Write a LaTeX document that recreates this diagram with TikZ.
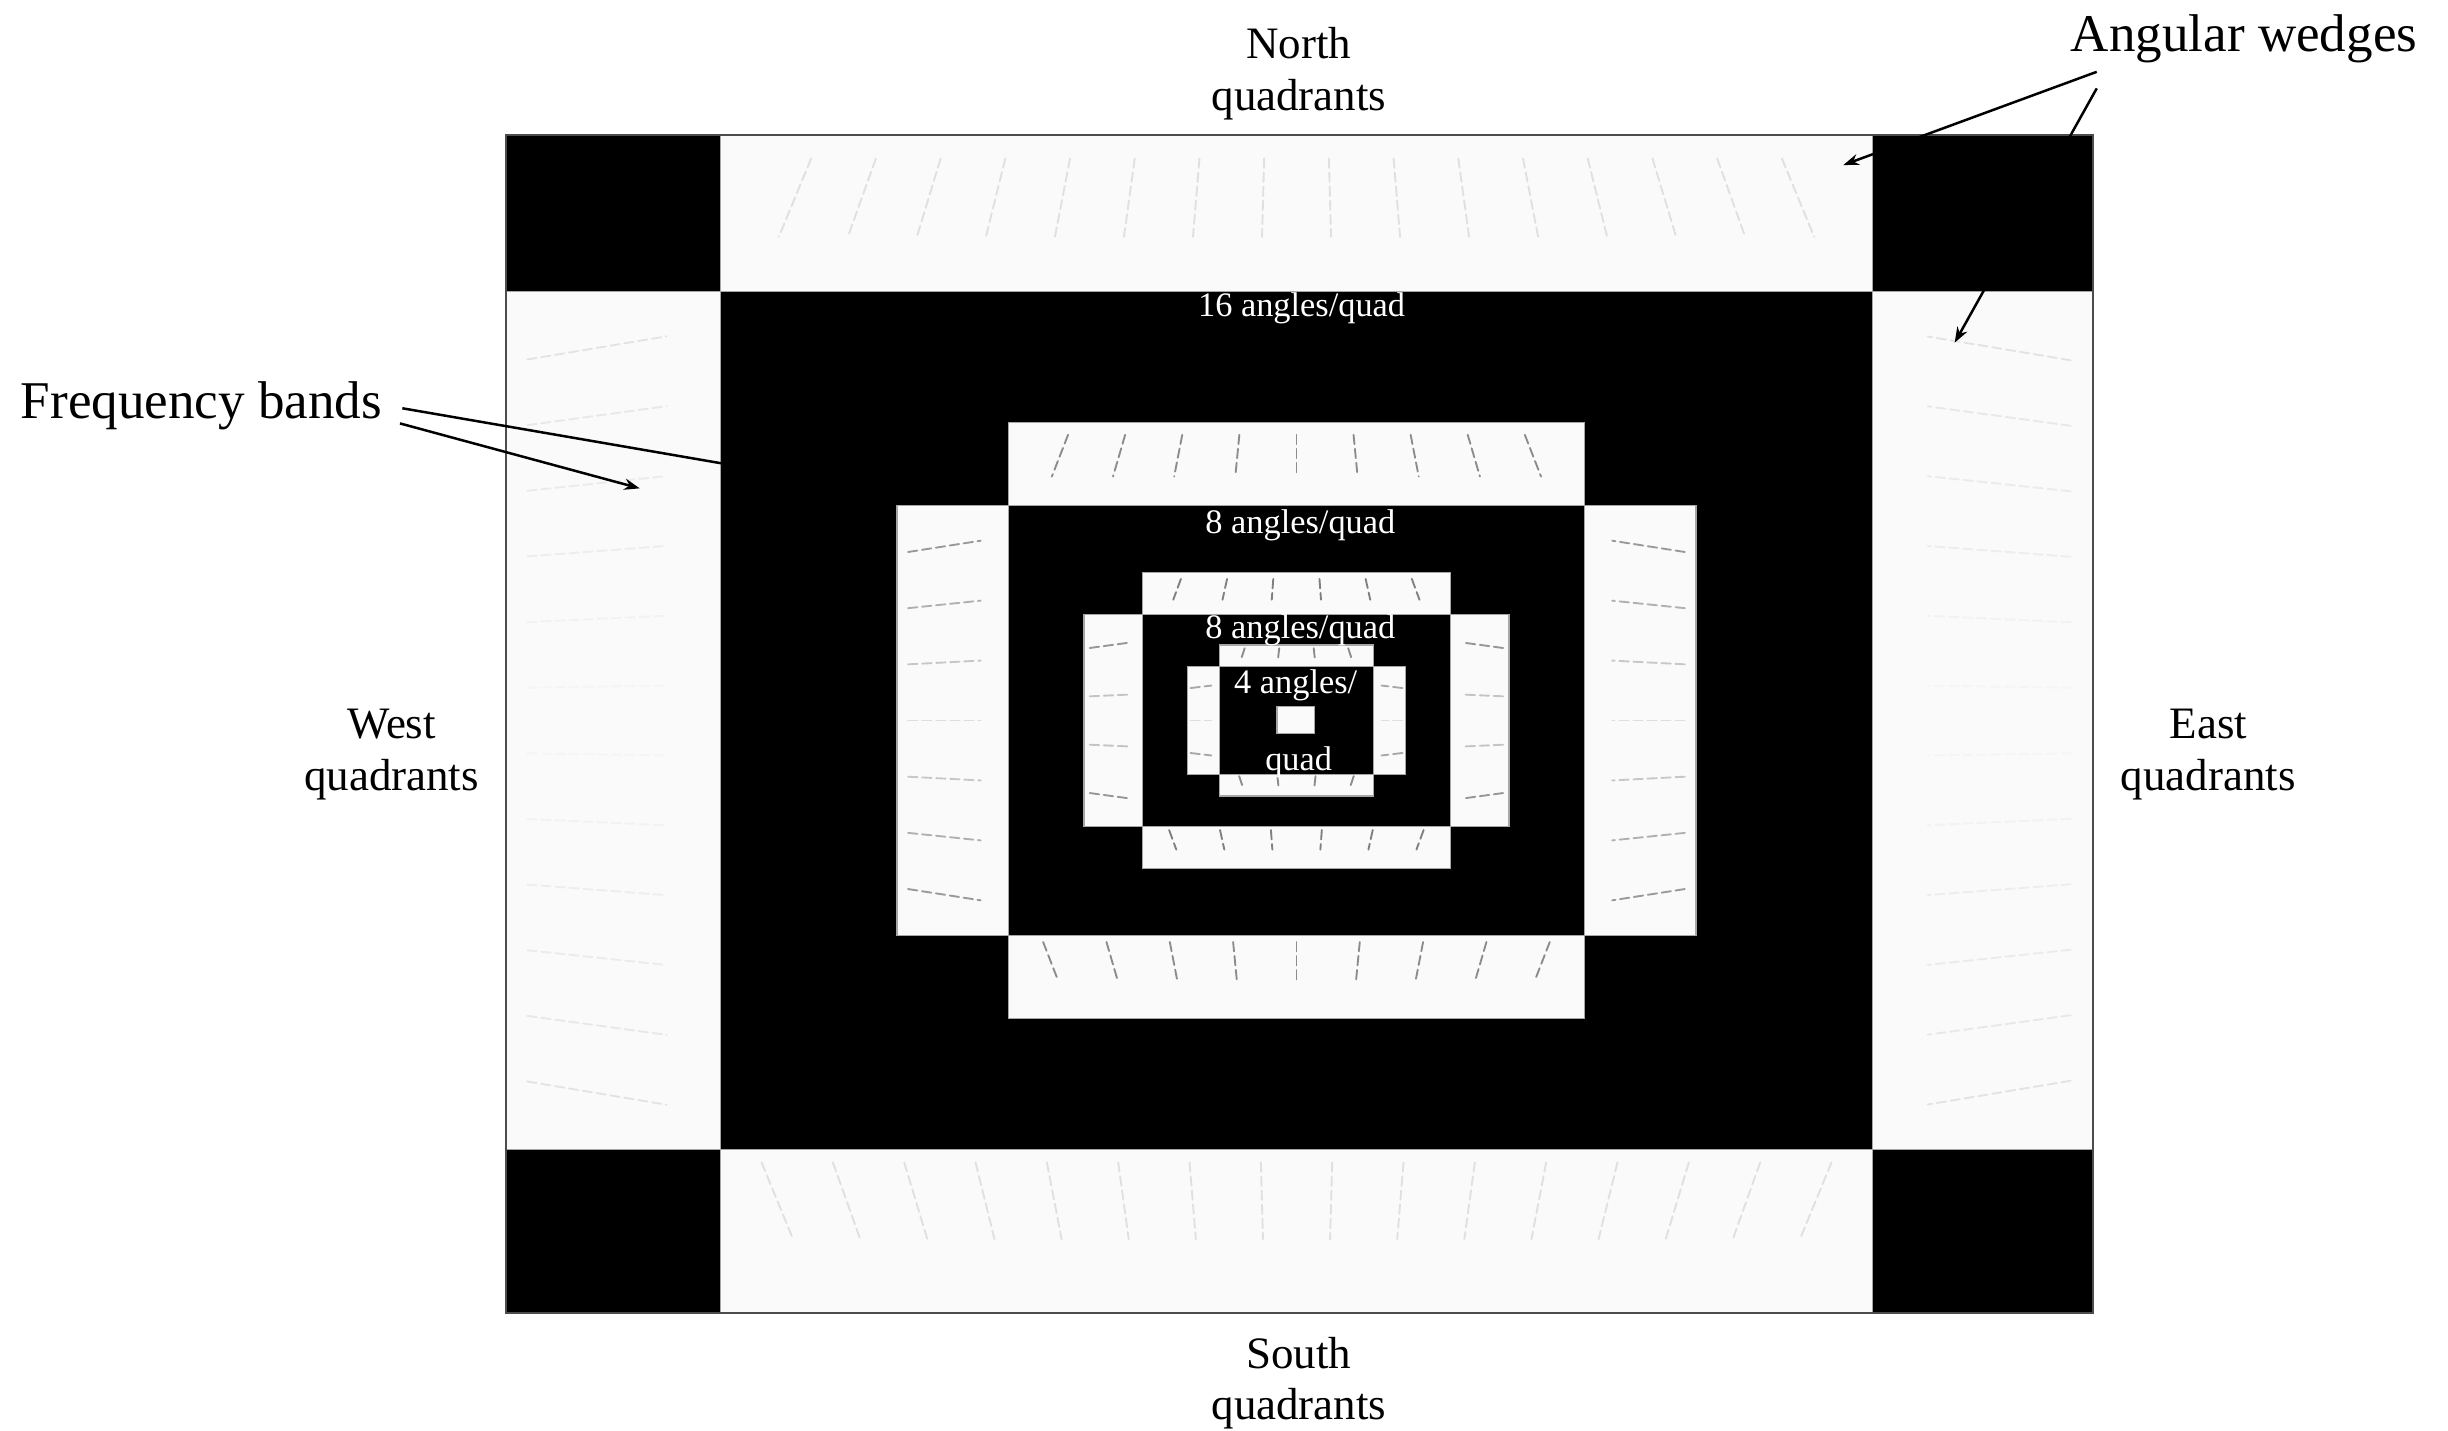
\documentclass[tikz,border=0pt]{standalone}
\usepackage{fontspec}
\setmainfont{Liberation Serif}
\usetikzlibrary{arrows.meta}
\definecolor{bandwhite}{RGB}{250,250,250}

\begin{document}
\begin{tikzpicture}[
    x=0.5pt, y=-0.5pt,
    band/.style={fill=bandwhite, draw=black!35, line width=0.4pt},
    streak/.style={draw=black!#1, line width=0.6pt, line cap=round, dash pattern=on 3pt off 1.5pt},
    sidelbl/.style={font=\fontsize{14.4}{16.5}\selectfont, align=center, inner sep=0pt},
    calllbl/.style={font=\fontsize{17}{20}\selectfont, inner sep=0pt, anchor=base west},
    anglelbl/.style={font=\fontsize{11}{13}\selectfont, text=white, inner sep=0pt, anchor=base},
    pointer/.style={-{Stealth[length=5pt,width=3.6pt]}, line width=0.8pt}
]
\useasboundingbox (0,0) rectangle (1568,916);

% black background of the coefficient image
\fill[black] (324,86.5) rectangle (1340.4,840.8);

% one ring of N/S/W/E bands per scale, outer to inner
\foreach \Xa/\xa/\xb/\Xb/\Ya/\ya/\yb/\Yb/\n/\ink in {
    324/461.3/1199.6/1340.4/86.5/186.8/736.2/840.8/16/12,
    574.5/646/1014.8/1086.3/270.5/323.9/599.1/652.5/9/45,
    694.3/731.6/929.1/966.5/366.8/393.5/529.5/556.2/6/50,
    760.5/781/879.8/900.3/413.1/427/496/509.9/4/45}{
  \filldraw[band] (\xa,\Ya) rectangle (\xb,\ya);
  \filldraw[band] (\xa,\yb) rectangle (\xb,\Yb);
  \filldraw[band] (\Xa,\ya) rectangle (\xa,\yb);
  \filldraw[band] (\xb,\ya) rectangle (\Xb,\yb);
  \pgfmathsetmacro\cx{(\xa+\xb)/2}
  \pgfmathsetmacro\cy{(\ya+\yb)/2}
  \pgfmathsetmacro\w{\xb-\xa}
  \pgfmathsetmacro\h{\yb-\ya}
  \pgfmathtruncatemacro\m{max(2,round(\n*\h/\w))}
  % wedges in the north and south bands
  \foreach \i in {1,...,\n}{
    \pgfmathsetmacro\qx{\xa+(\i-0.5)*\w/\n}
    \pgfmathsetmacro\sa{\Ya+0.15*(\ya-\Ya)}
    \pgfmathsetmacro\sb{\Ya+0.65*(\ya-\Ya)}
    \pgfmathsetmacro\ka{(\sa-\Ya+\w)/(\ya-\Ya+\w)}
    \pgfmathsetmacro\kb{(\sb-\Ya+\w)/(\ya-\Ya+\w)}
    \draw[streak=\ink] ({\cx+(\qx-\cx)*\ka},\sa) -- ({\cx+(\qx-\cx)*\kb},\sb);
    \pgfmathsetmacro\ta{\yb+0.08*(\Yb-\yb)}
    \pgfmathsetmacro\tb{\yb+0.55*(\Yb-\yb)}
    \pgfmathsetmacro\ka{(\Yb+\w-\ta)/(\Yb+\w-\yb)}
    \pgfmathsetmacro\kb{(\Yb+\w-\tb)/(\Yb+\w-\yb)}
    \draw[streak=\ink] ({\cx+(\qx-\cx)*\ka},\ta) -- ({\cx+(\qx-\cx)*\kb},\tb);
  }
  % wedges in the west and east bands, fading towards the middle
  \foreach \j in {1,...,\m}{
    \pgfmathsetmacro\qy{\ya+(\j-0.5)*\h/\m}
    \pgfmathtruncatemacro\fade{max(4,\ink*(0.3+0.7*abs(\qy-\cy)/(0.5*\h)))}
    \pgfmathsetmacro\ua{\Xa+0.1*(\xa-\Xa)}
    \pgfmathsetmacro\ub{\Xa+0.75*(\xa-\Xa)}
    \pgfmathsetmacro\ka{(\ua-\Xa+2.5*\h)/(\xa-\Xa+2.5*\h)}
    \pgfmathsetmacro\kb{(\ub-\Xa+2.5*\h)/(\xa-\Xa+2.5*\h)}
    \draw[streak=\fade] (\ua,{\cy+(\qy-\cy)*\ka}) -- (\ub,{\cy+(\qy-\cy)*\kb});
    \pgfmathsetmacro\va{\Xb-0.1*(\Xb-\xb)}
    \pgfmathsetmacro\vb{\Xb-0.75*(\Xb-\xb)}
    \pgfmathsetmacro\ka{(\Xb+2.5*\h-\va)/(\Xb+2.5*\h-\xb)}
    \pgfmathsetmacro\kb{(\Xb+2.5*\h-\vb)/(\Xb+2.5*\h-\xb)}
    \draw[streak=\fade] (\va,{\cy+(\qy-\cy)*\ka}) -- (\vb,{\cy+(\qy-\cy)*\kb});
  }
}
% coarsest scale
\filldraw[band] (818,452.6) rectangle (842,470);

\draw[black!70, line width=0.7pt] (324,86.5) rectangle (1340.4,840.8);

% quadrant labels
\node[sidelbl] (north) at (832,47.2) {North\\quadrants};
\node[sidelbl] (south) at (832,886) {South\\quadrants};
\node[sidelbl] (west) at (250.8,483.3) {West\\quadrants};
\node[sidelbl] (east) at (1414.5,483.3) {East\\quadrants};

% angles per scale
\node[anglelbl] (ang16) at (833.7,202.8) {16 angles/quad};
\node[anglelbl] (ang8a) at (832.9,341.6) {8 angles/quad};
\node[anglelbl] (ang8b) at (832.9,408.9) {8 angles/quad};
\node[anglelbl] (ang4) at (829.9,444.5) {4 angles/};
\node[anglelbl] (ang4q) at (831.8,493.6) {quad};

% callouts
\node[calllbl] (freq) at (13,268) {Frequency bands};
\node[calllbl] (wedges) at (1326,33) {Angular wedges};

\coordinate (freqA) at (257.7,261.5);
\coordinate (freqB) at (256.2,271.2);
\coordinate (bandEdge) at (478,299.5);
\coordinate (bandWest) at (409.8,312.8);
\coordinate (wedgeA) at (1343,46);
\coordinate (wedgeB) at (1343,56.6);
\coordinate (wedgeN) at (1180.7,105.7);
\coordinate (wedgeE) at (1252,219.5);

\draw[pointer] (freqA) -- (bandEdge);
\draw[pointer] (freqB) -- (bandWest);
\draw[pointer] (wedgeA) -- (wedgeN);
\draw[pointer] (wedgeB) -- (wedgeE);
\end{tikzpicture}
\end{document}
